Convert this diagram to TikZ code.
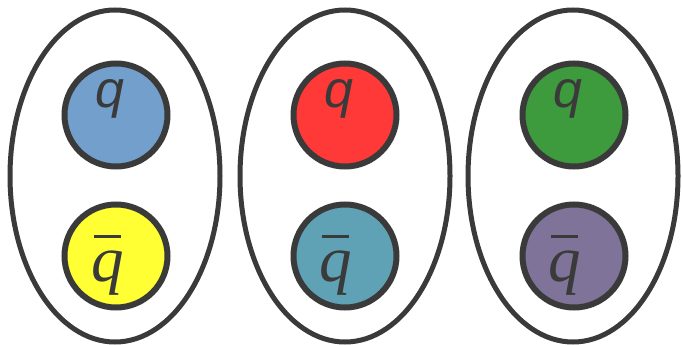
\documentclass[tikz,border=0pt]{standalone}
\usepackage{fontspec}
\usetikzlibrary{shapes.geometric}
\newfontfamily\qsansfont{Liberation Sans}
\newfontfamily\qseriffont{Liberation Serif}
\newcommand\barq{\rlap{\kern2pt\rule[43.5pt]{27pt}{2.4pt}}q}
\definecolor{edge}{HTML}{3A3A3A}
\definecolor{cblue}{HTML}{739FCC}
\definecolor{cyellow}{HTML}{FFFF33}
\definecolor{cred}{HTML}{FF3838}
\definecolor{cteal}{HTML}{5FA2B6}
\definecolor{cgreen}{HTML}{3D9A3D}
\definecolor{cpurple}{HTML}{7F7399}
\tikzset{
  hadron/.style={ellipse, draw=edge, line width=5pt, inner sep=0pt, minimum width=210pt, minimum height=332pt},
  quark/.style={circle, draw=edge, line width=6pt, inner sep=0pt, minimum size=103pt},
  qtop/.style={anchor=base, inner sep=0pt, text=edge, font=\qsansfont\itshape\fontsize{52}{52}\selectfont},
  qbot/.style={anchor=base, inner sep=0pt, text=edge, font=\qseriffont\itshape\fontsize{65}{65}\selectfont}
}
\begin{document}
\begin{tikzpicture}[x=1pt,y=-1pt]
\useasboundingbox (0,0) rectangle (682,345);
\node[hadron] (h1) at (115,176) {};
\node[hadron] (h2) at (345,176) {};
\node[hadron] (h3) at (573,176) {};
\node[quark, fill=cblue] (c1) at (116,115) {};
\node[quark, fill=cyellow] (a1) at (116,256) {};
\node[quark, fill=cred] (c2) at (345,115) {};
\node[quark, fill=cteal] (a2) at (345,256) {};
\node[quark, fill=cgreen] (c3) at (574,115) {};
\node[quark, fill=cpurple] (a3) at (574,256) {};
\node[qtop] (q1) at (110,107) {q};
\node[qtop] (q2) at (339,107) {q};
\node[qtop] (q3) at (568,107) {q};
\node[qbot] (b1) at (108,281) {\barq};
\node[qbot] (b2) at (336,281) {\barq};
\node[qbot] (b3) at (565,281) {\barq};
\end{tikzpicture}
\end{document}
